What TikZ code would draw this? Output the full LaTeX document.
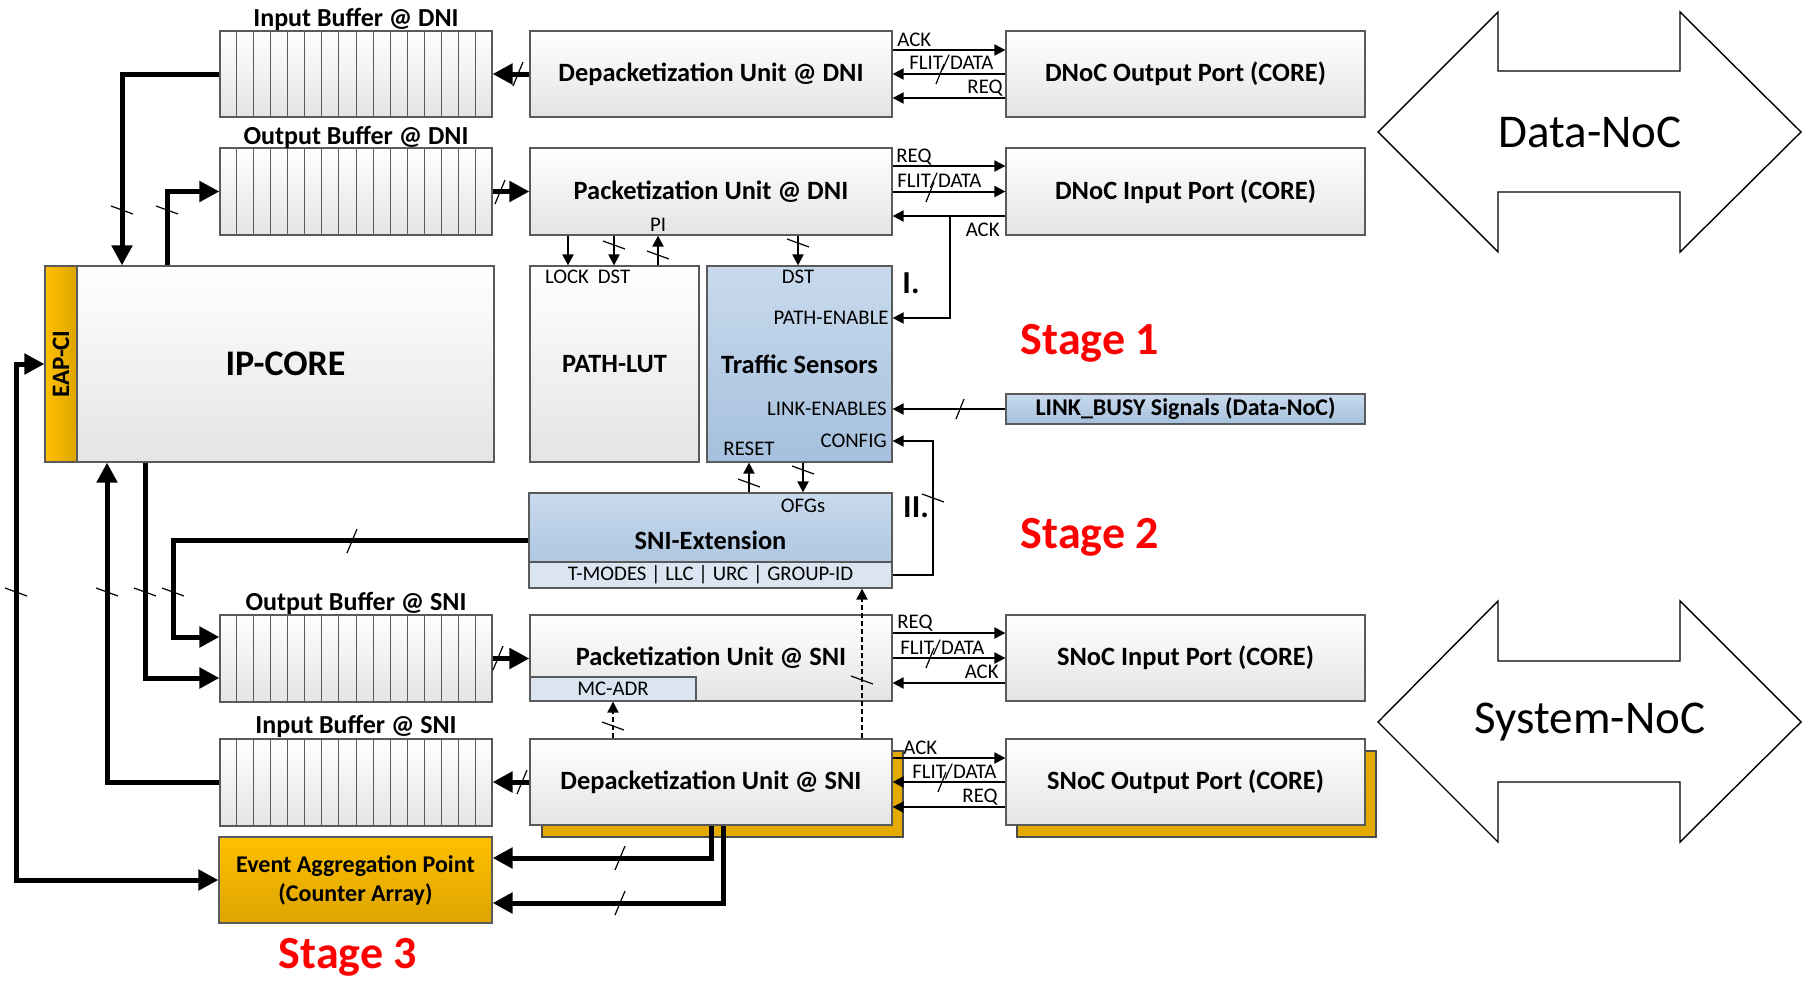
\documentclass[tikz,border=0pt]{standalone}
\usepackage{fontspec}
\setmainfont{Carlito}
\usetikzlibrary{arrows.meta,fit,calc}
\definecolor{edge}{HTML}{5A5A5A}
\definecolor{greyB}{HTML}{E4E4E4}
\definecolor{blueT}{HTML}{C9DAED}
\definecolor{blueB}{HTML}{A5C0DD}
\definecolor{blueL}{HTML}{DAE5F1}
\definecolor{orT}{HTML}{FFC000}
\definecolor{orB}{HTML}{DCA400}
\definecolor{orS}{HTML}{E3AA00}
\definecolor{stagered}{HTML}{FF0000}
\newcommand{\fs}[1]{\fontsize{#1}{#1}\selectfont}
\newcommand{\slv}[2]{\draw[slashmark] ($(#1,#2)+(-11,-4)$) -- ($(#1,#2)+(11,4)$);}
\newcommand{\slh}[2]{\draw[slashmark] ($(#1,#2)+(4,-10)$) -- ($(#1,#2)+(-4,10)$);}
\newcommand{\slH}[2]{\draw[slashmark] ($(#1,#2)+(5,-12)$) -- ($(#1,#2)+(-5,12)$);}
\newcommand{\cells}[1]{\foreach \i in {1,...,15}{\draw[cell] ($(#1.north west)!\i/16!(#1.north east)$) -- ($(#1.south west)!\i/16!(#1.south east)$);}}
\tikzset{
  box/.style={draw=edge, line width=0.6pt, top color=white, bottom color=greyB, inner sep=0pt},
  bluebox/.style={box, top color=blueT, bottom color=blueB},
  lbox/.style={draw=edge, line width=0.6pt, fill=blueL, inner sep=0pt},
  orbox/.style={draw=edge, line width=0.6pt, top color=orT, bottom color=orB, inner sep=0pt},
  shadowbox/.style={draw=black!70, line width=0.6pt, fill=orS, inner sep=0pt},
  utxt/.style={font=\bfseries\fs{13.2}, inner sep=0pt},
  buftitle/.style={font=\bfseries\fs{13}, inner sep=0pt},
  sig/.style={font=\fs{10.4}, inner sep=0pt},
  thickw/.style={line width=2.5pt, -{Triangle[length=10pt,width=10pt]}},
  thickboth/.style={line width=2.5pt, {Triangle[length=10pt,width=10pt]}-{Triangle[length=10pt,width=10pt]}},
  thinw/.style={line width=1pt, -{Triangle[length=5.5pt,width=5.5pt]}},
  dashw/.style={thinw, dash pattern=on 2.5pt off 1.5pt},
  slashmark/.style={line width=0.6pt},
  cell/.style={draw=edge, line width=0.5pt},
  stagelbl/.style={font=\bfseries\fs{23}, text=stagered, inner sep=0pt},
  roman/.style={font=\bfseries\fs{16}, inner sep=0pt},
  noc/.style={draw=black, line width=0.7pt, fill=white},
}
\begin{document}
\begin{tikzpicture}[x=0.5pt,y=-0.5pt]
\useasboundingbox (0,0) rectangle (1802,980);
\fill[white] (0,0) rectangle (1802,980);

% NoC double arrows
\draw[noc] (1378,132) -- (1498,12) -- (1498,71) -- (1680,71) -- (1680,12) -- (1801,132) -- (1680,252) -- (1680,192) -- (1498,192) -- (1498,252) -- cycle;
\node[font=\fs{23.5}] (dnoc) at (1590,132) {Data-NoC};
\draw[noc] (1378,722) -- (1498,601) -- (1498,661) -- (1680,661) -- (1680,601) -- (1801,722) -- (1680,842) -- (1680,782) -- (1498,782) -- (1498,842) -- cycle;
\node[font=\fs{23.5}] (snoc) at (1590,722) {System-NoC};

% buffers
\node[box, fit={(220,31) (492,117)}] (ibD) {};
\node[box, fit={(220,148) (492,235)}] (obD) {};
\node[box, fit={(220,615) (492,702)}] (obS) {};
\node[box, fit={(220,739) (492,826)}] (ibS) {};
\cells{ibD}\cells{obD}\cells{obS}\cells{ibS}
\node[buftitle] (tibD) at (356,19) {Input Buffer @ DNI};
\node[buftitle] (tobD) at (356,137) {Output Buffer @ DNI};
\node[buftitle] (tobS) at (356,603) {Output Buffer @ SNI};
\node[buftitle] (tibS) at (356,726) {Input Buffer @ SNI};

% units
\node[box, fit={(530,31) (892,117)}] (dpD) {};
\node[utxt] (dpDt) at (dpD.center) {Depacketization Unit @ DNI};
\node[box, fit={(530,148) (892,235)}] (pkD) {};
\node[utxt] (pkDt) at (pkD.center) {Packetization Unit @ DNI};
\node[box, fit={(530,615) (892,701)}] (pkS) {};
\node[utxt] (pkSt) at (pkS.center) {Packetization Unit @ SNI};
\node[lbox, fit={(530,677) (696,701)}] (mca) {};
\node[sig] (mcat) at (mca.center) {MC-ADR};
\node[shadowbox, fit={(542,751) (903,837)}] (dpSsh) {};
\node[box, fit={(530,739) (892,825)}] (dpS) {};
\node[utxt] (dpSt) at (dpS.center) {Depacketization Unit @ SNI};

% ports
\node[box, fit={(1006,31) (1365,117)}] (doD) {};
\node[utxt] (doDt) at (doD.center) {DNoC Output Port (CORE)};
\node[box, fit={(1006,148) (1365,235)}] (diD) {};
\node[utxt] (diDt) at (diD.center) {DNoC Input Port (CORE)};
\node[box, fit={(1006,615) (1365,701)}] (siS) {};
\node[utxt] (siSt) at (siS.center) {SNoC Input Port (CORE)};
\node[shadowbox, fit={(1017,751) (1376,837)}] (soSsh) {};
\node[box, fit={(1006,739) (1365,825)}] (soS) {};
\node[utxt] (soSt) at (soS.center) {SNoC Output Port (CORE)};

% path-lut, traffic sensors, link busy, sni-ext
\node[box, fit={(530,266) (699,462)}] (lut) {};
\node[utxt] (lutt) at (lut.center) {PATH-LUT};
\node[bluebox, fit={(707,266) (892,462)}] (ts) {};
\node[utxt] (tst) at (ts.center) {Traffic Sensors};
\node[bluebox, fit={(1006,394) (1365,424)}] (lb) {};
\node[utxt, font=\bfseries\fs{12}] (lbt) at (lb.center) {LINK\_BUSY Signals (Data-NoC)};
\node[bluebox, fit={(529,493) (892,588)}] (snix) {};
\node[utxt] (snixt) at (snix.center) {SNI-Extension};
\node[lbox, fit={(529,562) (892,588)}] (strip) {};
\node[sig] (stript) at (strip.center) {T-MODES | LLC | URC | GROUP-ID};

% IP core
\node[box, fit={(77,266) (494,462)}] (ipc) {};
\node[utxt, font=\bfseries\fs{18}] (ipct) at (ipc.center) {IP-CORE};
\node[draw=edge, line width=0.6pt, left color=orT, right color=orB, inner sep=0pt, fit={(45,266) (77,462)}] (eapci) {};
\node[rotate=90, font=\bfseries\fs{12.5}, inner sep=0pt] (eapcit) at (eapci.center) {EAP-CI};

% event aggregation point
\node[orbox, fit={(219,837) (492,923)}] (eap) {};
\node[align=center, inner sep=0pt, font=\bfseries\fontsize{12}{14.5}\selectfont] (eapt) at (eap.center) {Event Aggregation Point\\(Counter Array)};

% inner labels
\node[sig] (lk) at (567,277) {LOCK};
\node[sig] (ld) at (614,277) {DST};
\node[sig] (pi) at (658,225) {PI};
\node[sig] (tsd) at (798,277) {DST};
\node[sig, anchor=east] (pe) at (889,318) {PATH-ENABLE};
\node[sig, anchor=east] (le) at (887,409) {LINK-ENABLES};
\node[sig, anchor=east] (cf) at (887,441) {CONFIG};
\node[sig] (rs) at (749,449) {RESET};
\node[sig] (of) at (803,506) {OFGs};

% signal labels
\node[sig, anchor=west] (a1) at (897,40) {ACK};
\node[sig, anchor=west] (a2) at (909,63) {FLIT/DATA};
\node[sig, anchor=east] (a3) at (1003,88) {REQ};
\node[sig, anchor=west] (a4) at (896,157) {REQ};
\node[sig, anchor=west] (a5) at (897,181) {FLIT/DATA};
\node[sig, anchor=east] (a6) at (1000,230) {ACK};
\node[sig, anchor=west] (a7) at (897,623) {REQ};
\node[sig, anchor=west] (a8) at (900,648) {FLIT/DATA};
\node[sig, anchor=east] (a9) at (999,672) {ACK};
\node[sig, anchor=west] (a10) at (903,748) {ACK};
\node[sig, anchor=west] (a11) at (912,772) {FLIT/DATA};
\node[sig, anchor=east] (a12) at (998,797) {REQ};

% stage labels
\node[stagelbl] (s1) at (1090,343) {Stage 1};
\node[stagelbl] (s2) at (1090,537) {Stage 2};
\node[stagelbl] (s3) at (348,957) {Stage 3};
\node[roman] (r1) at (911,283) {I.};
\node[roman] (r2) at (916,507) {II.};

% ---- connectors ----
\draw[thickw] (ibD.west) -| (ipc.north -| 122,0);
\draw[thickw] (ipc.north -| 167,0) |- (obD.west);
\draw[thickw] (dpD.west) -- (ibD.east);
\draw[thickw] (obD.east) -- (pkD.west);

\draw[thinw] (dpD.east |- 0,50) -- (doD.west |- 0,50);
\draw[thinw] (doD.west) -- (dpD.east);
\draw[thinw] (doD.west |- 0,98) -- (dpD.east |- 0,98);
\draw[thinw] (pkD.east |- 0,166) -- (diD.west |- 0,166);
\draw[thinw] (pkD.east) -- (diD.west);
\draw[thinw] (diD.west |- 0,216) -- (pkD.east |- 0,216);
\coordinate (ackbr) at (950,216);
\draw[thinw] (ackbr) |- (ts.east |- 0,318);

\draw[thinw] (pkD.south -| 568,0) -- (lut.north -| 568,0);
\draw[thinw] (pkD.south -| 614,0) -- (lut.north -| 614,0);
\draw[thinw] (lut.north -| 658,0) -- (pkD.south -| 658,0);
\draw[thinw] (pkD.south -| 798,0) -- (ts.north -| 798,0);
\draw[thinw] (lb.west) -- (ts.east |- lb.west);
\draw[thinw] (strip.east) -| (933,441) -- (ts.east |- 0,441);
\draw[thinw] (snix.north -| 749,0) -- (ts.south -| 749,0);
\draw[thinw] (ts.south -| 803,0) -- (snix.north -| 803,0);

\draw[thickw] (snix.west) -| (173,637) -- (obS.west |- 0,637);
\draw[thickw] (ipc.south -| 145,0) |- (obS.west |- 0,678);
\draw[thickw] (ibS.west) -| (ipc.south -| 107,0);
\draw[thickboth] (eapci.west) -| (16,880) -- (eap.west);
\draw[thickw] (obS.east) -- (pkS.west |- obS.east);
\draw[thickw] (dpS.west) -- (ibS.east |- dpS.west);

\draw[thinw] (pkS.east |- 0,633) -- (siS.west |- 0,633);
\draw[thinw] (pkS.east |- 0,658) -- (siS.west |- 0,658);
\draw[thinw] (siS.west |- 0,683) -- (pkS.east |- 0,683);
\draw[thinw] (dpS.east |- 0,758) -- (soS.west |- 0,758);
\draw[thinw] (soS.west |- 0,782) -- (dpS.east |- 0,782);
\draw[thinw] (soS.west |- 0,807) -- (dpS.east |- 0,807);

\draw[dashw] (dpS.north -| 613,0) -- (mca.south -| 613,0);
\draw[dashw] (dpS.north -| 862,0) -- (strip.south -| 862,0);

\draw[thickw] (dpS.south -| 711,0) |- (eap.east |- 0,858);
\draw[thickw] (dpS.south -| 723,0) |- (eap.east |- 0,903);

% bus slashes
\slv{122}{210}\slv{167}{210}
\slH{518}{74}\slH{500}{192}
\slh{940}{74}\slh{930}{192}
\slv{614}{245}\slv{658}{255}\slv{798}{243}
\slh{960}{409}
\slv{933}{498}
\slv{749}{483}\slv{803}{470}
\slH{352}{541}
\slv{16}{592}\slv{107}{592}\slv{145}{592}\slv{173}{592}
\slH{498}{658}\slH{522}{782}
\slh{930}{658}\slh{942}{782}
\slv{613}{726}\slv{862}{680}
\slH{620}{858}\slH{620}{903}
\end{tikzpicture}
\end{document}
